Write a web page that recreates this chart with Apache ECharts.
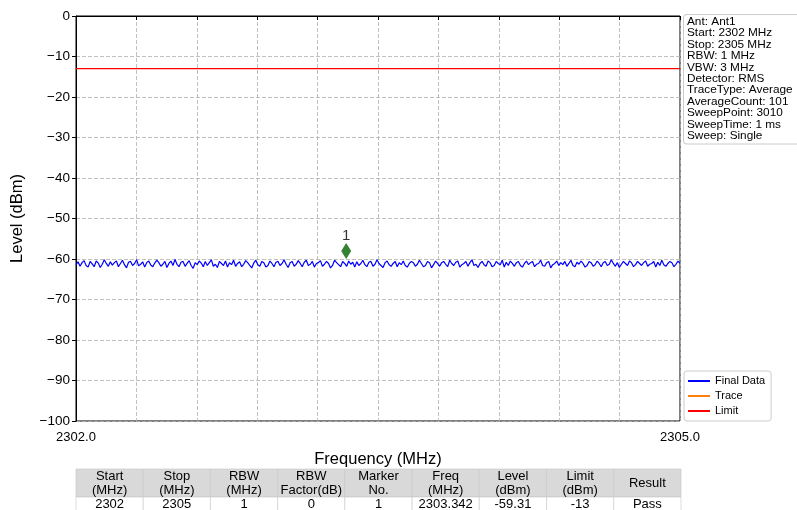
<!DOCTYPE html>
<html><head><meta charset="utf-8">
<script src="https://cdn.jsdelivr.net/npm/echarts@6/dist/echarts.min.js"></script>
<style>html,body{margin:0;padding:0;background:#fff}#c{width:797px;height:510px}</style>
</head><body><div id="c"></div>
<script>
var freqStart = 2302, freqStop = 2305;
var xTickLabels = ['2302.0', '2305.0'];
var yTicks = [0, -10, -20, -30, -40, -50, -60, -70, -80, -90, -100];
var limitLevel = -13;
var markerFreq = [2303.342];
var markerPlotLevel = [-58.0];
var markerNames = ['1'];
var levels = [
-61.4,-60.7,-61.8,-60.9,-60.4,-61.6,-62.0,-60.6,-61.2,-61.9,-60.5,-61.0,-62.1,-61.3,-60.2,-61.1,-61.8,-60.7,-61.5,-60.9,
-60.5,-61.9,-61.1,-60.3,-61.4,-62.2,-60.8,-60.6,-61.6,-61.1,-60.2,-61.7,-61.3,-60.7,-62.0,-60.9,-60.5,-61.5,-61.9,-61.0,
-60.3,-60.9,-61.8,-61.3,-60.6,-62.1,-61.1,-60.5,-61.6,-60.1,-61.3,-61.9,-60.8,-60.6,-61.8,-61.1,-60.4,-61.6,-62.3,-60.9,
-61.4,-60.5,-61.0,-61.9,-60.6,-61.6,-60.9,-60.2,-61.8,-61.3,-62.1,-60.6,-61.1,-61.6,-60.5,-62.0,-60.9,-61.4,-60.3,-61.8,
-61.1,-60.7,-61.9,-61.3,-60.4,-60.9,-61.6,-62.2,-61.0,-60.3,-61.4,-61.8,-60.6,-60.9,-62.0,-61.6,-60.5,-61.1,-61.9,-60.8,
-60.6,-61.6,-61.1,-60.2,-61.3,-62.1,-60.9,-60.6,-61.8,-61.3,-60.4,-61.1,-61.9,-60.8,-60.3,-61.6,-61.3,-60.6,-62.0,-61.1,
-60.9,-60.4,-61.8,-61.3,-60.6,-61.1,-62.2,-61.6,-60.3,-60.9,-61.4,-61.9,-60.6,-61.1,-61.8,-60.5,-61.3,-60.8,-62.0,-60.7,
-61.6,-61.1,-60.3,-61.4,-61.9,-60.8,-60.6,-61.8,-61.3,-60.2,-61.1,-61.6,-62.1,-60.9,-60.5,-61.4,-61.8,-61.1,-60.6,-61.9,
-60.9,-61.4,-60.5,-61.6,-62.0,-61.1,-60.6,-60.9,-61.8,-61.3,-60.3,-61.1,-61.9,-61.6,-60.6,-60.9,-62.2,-61.4,-60.5,-61.1,
-61.8,-60.9,-60.6,-61.3,-61.9,-60.3,-61.1,-61.6,-60.8,-60.5,-62.0,-61.4,-61.1,-60.6,-61.8,-60.9,-60.2,-61.6,-61.3,-62.1,
-61.1,-60.6,-61.4,-61.8,-60.5,-60.9,-61.9,-61.6,-60.6,-61.1,-61.4,-60.3,-62.0,-60.8,-61.6,-60.5,-61.1,-61.8,-60.9,-60.6,
-61.6,-62.0,-61.1,-60.5,-61.4,-60.9,-60.6,-61.9,-61.3,-61.1,-60.3,-61.6,-61.8,-60.9,-60.6,-62.2,-61.4,-61.1,-60.5,-61.6,
-60.9,-61.4,-60.6,-61.8,-61.1,-60.3,-61.6,-61.9,-60.8,-61.3,-60.5,-61.1,-62.0,-61.6,-60.6,-60.9,-61.8,-61.4,-60.5,-61.1,
-61.9,-60.9,-60.6,-61.6,-61.3,-60.2,-61.1,-61.8,-60.9,-62.1,-61.3,-60.6,-61.1,-61.6,-60.5,-60.9,-61.9,-61.4,-60.6,-61.1,
-61.6,-60.9,-60.5,-61.8,-61.3,-61.1,-60.6,-62.0,-60.8,-61.6,-60.3,-61.4,-61.8,-61.1,-60.6,-60.9,-61.9,-61.3,-60.5,-61.1
];
var infoLines = ['Ant: Ant1','Start: 2302 MHz','Stop: 2305 MHz','RBW: 1 MHz','VBW: 3 MHz','Detector: RMS','TraceType: Average','AverageCount: 101','SweepPoint: 3010','SweepTime: 1 ms','Sweep: Single'];
var tableHead1 = ['Start','Stop','RBW','RBW','Marker','Freq','Level','Limit','Result'];
var tableHead2 = ['(MHz)','(MHz)','(MHz)','Factor(dB)','No.','(MHz)','(dBm)','(dBm)',''];
var tableRow = ['2302','2305','1','0','1','2303.342','-59.31','-13','Pass'];

var span = freqStop - freqStart;
var traceData = levels.map(function (v, i) { return [i / (levels.length - 1) * span, v]; });
var limitData = [[0, limitLevel], [span, limitLevel]];
var markerData = markerFreq.map(function (f, i) { return { value: [f - freqStart, markerPlotLevel[i]], name: markerNames[i] }; });

var FONT = 'Liberation Sans, Arial, sans-serif';
var chart = echarts.init(document.getElementById('c'), null, { renderer: 'canvas' });

var graphics = [];
graphics.push({
  type: 'text', left: 683, top: 14,
  style: {
    text: infoLines.join('\n'), font: '11.8px ' + FONT, lineHeight: 11.4, fill: '#000',
    backgroundColor: '#fff', borderColor: '#cccccc', borderWidth: 1, borderRadius: 3,
    padding: [1, 8, 2, 3]
  }, z: 100
});
var tLeft = 76, tRight = 681, tTop = 469, hH = 28, rH = 14;
var cw = (tRight - tLeft) / tableHead1.length;
for (var i = 0; i < tableHead1.length; i++) {
  var x = tLeft + i * cw;
  graphics.push({ type: 'rect', shape: { x: x, y: tTop, width: cw, height: hH }, style: { fill: '#d9d9d9', stroke: '#c8c8c8', lineWidth: 0.6 }, silent: true });
  graphics.push({ type: 'rect', shape: { x: x, y: tTop + hH, width: cw, height: rH + 4 }, style: { fill: '#ffffff', stroke: '#c8c8c8', lineWidth: 0.6 }, silent: true });
  var ht = tableHead2[i] ? tableHead1[i] + '\n' + tableHead2[i] : tableHead1[i];
  graphics.push({ type: 'text', x: x + cw / 2, y: tTop + hH / 2 + 0.5, style: { text: ht, font: '13px ' + FONT, lineHeight: 13.5, fill: '#000', align: 'center', verticalAlign: 'middle' } });
  graphics.push({ type: 'text', x: x + cw / 2, y: tTop + hH + 7.5, style: { text: tableRow[i], font: '13px ' + FONT, fill: '#000', align: 'center', verticalAlign: 'middle' } });
}

chart.setOption({
  animation: false,
  textStyle: { fontFamily: FONT },
  grid: { left: 76, right: 117, top: 16, bottom: 89, show: true, borderColor: '#000', borderWidth: 1, containLabel: false },
  legend: {
    data: ['Final Data', 'Trace', 'Limit'], orient: 'vertical', left: 684, top: 371,
    icon: 'rect', itemWidth: 22, itemHeight: 2, itemGap: 3,
    textStyle: { fontSize: 11, color: '#000', lineHeight: 12, fontFamily: FONT },
    borderColor: '#cccccc', borderWidth: 1, borderRadius: 3, padding: [4, 6, 4, 4], backgroundColor: '#fff'
  },
  xAxis: {
    type: 'value', min: 0, max: span, interval: 0.3,
    name: 'Frequency (MHz)', nameLocation: 'middle', nameGap: 30,
    nameTextStyle: { fontSize: 16.5, color: '#000', fontFamily: FONT },
    axisLine: { show: true, lineStyle: { color: '#000', width: 1 } },
    axisTick: { show: true, length: 4, lineStyle: { color: '#000' } },
    axisLabel: {
      fontSize: 13, color: '#000', margin: 10, showMinLabel: true, showMaxLabel: true,
      formatter: function (v) {
        if (Math.abs(v) < 1e-6) return xTickLabels[0];
        if (Math.abs(v - span) < 1e-6) return xTickLabels[1];
        return '';
      }
    },
    splitLine: { show: true, lineStyle: { color: '#b0b0b0', type: [4, 2], width: 0.8 } }
  },
  yAxis: {
    type: 'value', min: yTicks[yTicks.length - 1], max: yTicks[0], interval: 10,
    name: 'Level (dBm)', nameLocation: 'middle', nameGap: 50,
    nameTextStyle: { fontSize: 16.5, color: '#000', fontFamily: FONT },
    axisLine: { show: true, lineStyle: { color: '#000', width: 1 } },
    axisTick: { show: true, length: 4, lineStyle: { color: '#000' } },
    axisLabel: { fontSize: 13.5, color: '#000', margin: 6, formatter: function (v) { return String(v).replace('-', '\u2212'); } },
    splitLine: { show: true, lineStyle: { color: '#b0b0b0', type: [4, 2], width: 0.8 } }
  },
  series: [
    { name: 'Final Data', type: 'line', data: traceData, showSymbol: false, lineStyle: { color: '#0000ff', width: 1.2 }, itemStyle: { color: '#0000ff' }, z: 3 },
    { name: 'Trace', type: 'line', data: [], showSymbol: false, lineStyle: { color: '#ff7f0e', width: 1.5 }, itemStyle: { color: '#ff7f0e' } },
    { name: 'Limit', type: 'line', data: limitData, showSymbol: false, lineStyle: { color: '#ff0000', width: 1.2 }, itemStyle: { color: '#ff0000' }, z: 4 },
    { name: 'Marker', type: 'scatter', data: markerData, symbol: 'path://M0,-10 L6,0 L0,10 L-6,0 Z', symbolSize: [10, 16],
      itemStyle: { color: '#006400' }, z: 5,
      label: { show: true, position: 'top', distance: 0, formatter: function (p) { return p.name; }, fontSize: 15, color: '#000', fontFamily: FONT } }
  ],
  graphic: graphics
});
</script>
</body></html>
